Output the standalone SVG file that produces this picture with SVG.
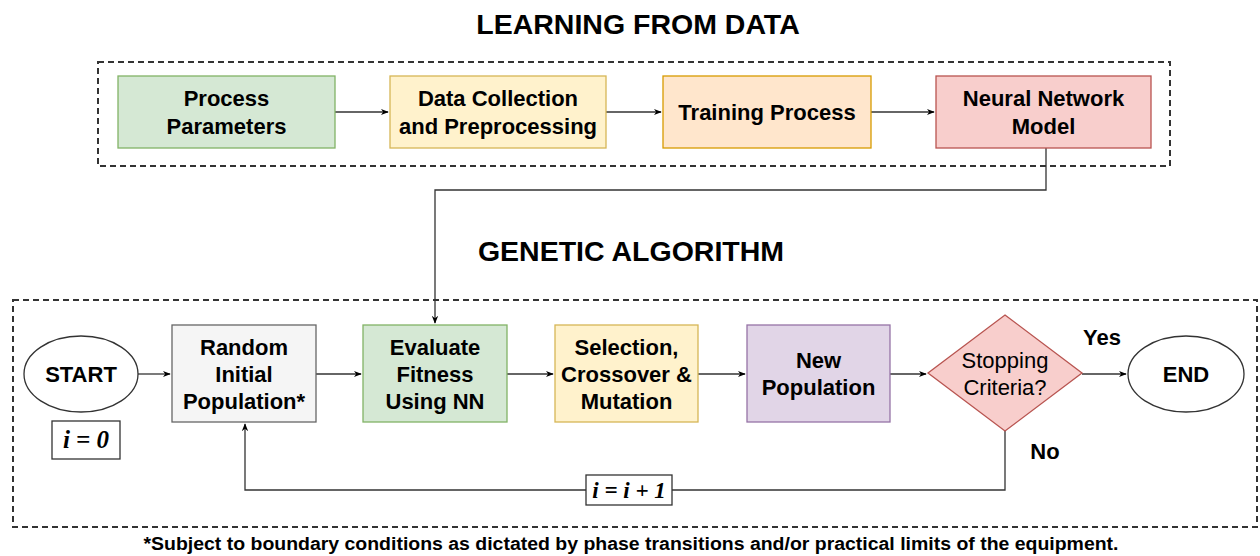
<svg xmlns="http://www.w3.org/2000/svg" width="1260" height="556" viewBox="0 0 1260 556">
<style>
  text { font-family: "Liberation Sans", Arial, sans-serif; fill: #000; }
  .lbl { font-size: 22px; font-weight: bold; text-anchor: middle; }
  .title { font-size: 28.5px; font-weight: bold; text-anchor: middle; }
  .plain { font-size: 22px; text-anchor: middle; }
  .math { font-family: "Liberation Serif", "Times New Roman", serif; font-style: italic; font-weight: bold; text-anchor: middle; }
  .note { font-family: "Liberation Sans Narrow", "Arial Narrow", "Liberation Sans", sans-serif; font-size: 18px; font-weight: bold; text-anchor: middle; }
  .frame { fill: none; stroke: #333; stroke-width: 2; stroke-dasharray: 6 4; }
  .edge { fill: none; stroke: #333; stroke-width: 1.3; }
  .green { fill: #d5e8d4; stroke: #82b366; stroke-width: 1.3; }
  .yellow { fill: #fff2cc; stroke: #d6b656; stroke-width: 1.3; }
  .orange { fill: #ffe6cc; stroke: #d79b00; stroke-width: 1.3; }
  .red { fill: #f8cecc; stroke: #b85450; stroke-width: 1.3; }
  .purple { fill: #e1d5e7; stroke: #9673a6; stroke-width: 1.3; }
  .gray { fill: #f5f5f5; stroke: #666; stroke-width: 1.3; }
  .white { fill: #fff; stroke: #333; stroke-width: 1.3; }
</style>
<defs>
  <marker id="arr" viewBox="0 0 10 10" refX="9" refY="5" markerWidth="8" markerHeight="8" orient="auto" markerUnits="userSpaceOnUse">
    <path d="M0,1 L10,5 L0,9 L3,5 Z" fill="#000"/>
  </marker>
</defs>

<rect width="1260" height="556" fill="#fff"/>

<!-- section titles and frames -->
<text class="title" x="638" y="34">LEARNING FROM DATA</text>
<rect class="frame" x="98" y="62" width="1072" height="104"/>
<text class="title" x="631" y="261">GENETIC ALGORITHM</text>
<rect class="frame" x="13" y="300" width="1244" height="227"/>

<!-- connectors -->
<g id="connectors">
  <path class="edge" d="M335,112 H388" marker-end="url(#arr)"/>
  <path class="edge" d="M606,112 H661" marker-end="url(#arr)"/>
  <path class="edge" d="M870,112 H934" marker-end="url(#arr)"/>
  <path class="edge" d="M1046,148 V190 H435 V323" marker-end="url(#arr)"/>
  <path class="edge" d="M138,374 H170" marker-end="url(#arr)"/>
  <path class="edge" d="M316,374 H361" marker-end="url(#arr)"/>
  <path class="edge" d="M507,374 H553" marker-end="url(#arr)"/>
  <path class="edge" d="M698,374 H745" marker-end="url(#arr)"/>
  <path class="edge" d="M890,374 H926" marker-end="url(#arr)"/>
  <path class="edge" d="M1082,374 H1126" marker-end="url(#arr)"/>
  <path class="edge" d="M1005,431 V490 H245 V424" marker-end="url(#arr)"/>
  <text class="lbl" x="1102" y="345">Yes</text>
  <text class="lbl" x="1045" y="459">No</text>
</g>

<!-- learning stage -->
<g id="process-parameters">
  <rect class="green" x="118" y="76" width="217" height="72"/>
  <text class="lbl" x="226.5" y="106">Process</text>
  <text class="lbl" x="226.5" y="134">Parameters</text>
</g>
<g id="data-collection">
  <rect class="yellow" x="390" y="76" width="216" height="72"/>
  <text class="lbl" x="498" y="106">Data Collection</text>
  <text class="lbl" x="498" y="134">and Preprocessing</text>
</g>
<g id="training-process">
  <rect class="orange" x="663" y="76" width="208" height="72"/>
  <text class="lbl" x="767" y="120">Training Process</text>
</g>
<g id="neural-network-model">
  <rect class="red" x="936" y="76" width="215" height="72"/>
  <text class="lbl" x="1043.5" y="106">Neural Network</text>
  <text class="lbl" x="1043.5" y="134">Model</text>
</g>

<!-- genetic algorithm -->
<g id="start">
  <ellipse class="white" cx="81" cy="374" rx="57" ry="38"/>
  <text class="lbl" x="81" y="382">START</text>
</g>
<g id="init-counter">
  <rect class="white" x="52" y="421" width="68" height="38"/>
  <text class="math" x="86" y="448" font-size="25">i = 0</text>
</g>
<g id="random-initial-population">
  <rect class="gray" x="172" y="325" width="144" height="97"/>
  <text class="lbl" x="244" y="355">Random</text>
  <text class="lbl" x="244" y="382">Initial</text>
  <text class="lbl" x="244" y="409">Population*</text>
</g>
<g id="evaluate-fitness">
  <rect class="green" x="363" y="325" width="144" height="97"/>
  <text class="lbl" x="435" y="355">Evaluate</text>
  <text class="lbl" x="435" y="382">Fitness</text>
  <text class="lbl" x="435" y="409">Using NN</text>
</g>
<g id="selection-crossover-mutation">
  <rect class="yellow" x="555" y="325" width="143" height="97"/>
  <text class="lbl" x="626.5" y="355">Selection,</text>
  <text class="lbl" x="626.5" y="382">Crossover &amp;</text>
  <text class="lbl" x="626.5" y="409">Mutation</text>
</g>
<g id="new-population">
  <rect class="purple" x="747" y="325" width="143" height="97"/>
  <text class="lbl" x="818.5" y="368">New</text>
  <text class="lbl" x="818.5" y="395">Population</text>
</g>
<g id="stopping-criteria">
  <polygon class="red" points="1005,315 1082,373 1005,431 928,373"/>
  <text class="plain" x="1005" y="368">Stopping</text>
  <text class="plain" x="1005" y="395">Criteria?</text>
</g>
<g id="end">
  <ellipse class="white" cx="1186" cy="374" rx="58" ry="38"/>
  <text class="lbl" x="1186" y="382">END</text>
</g>
<g id="increment-counter">
  <rect class="white" x="586" y="475" width="86" height="30"/>
  <text class="math" x="629" y="498" font-size="23">i = i + 1</text>
</g>

<text class="note" x="631" y="550" textLength="975" lengthAdjust="spacingAndGlyphs">*Subject to boundary conditions as dictated by phase transitions and/or practical limits of the equipment.</text>
</svg>
